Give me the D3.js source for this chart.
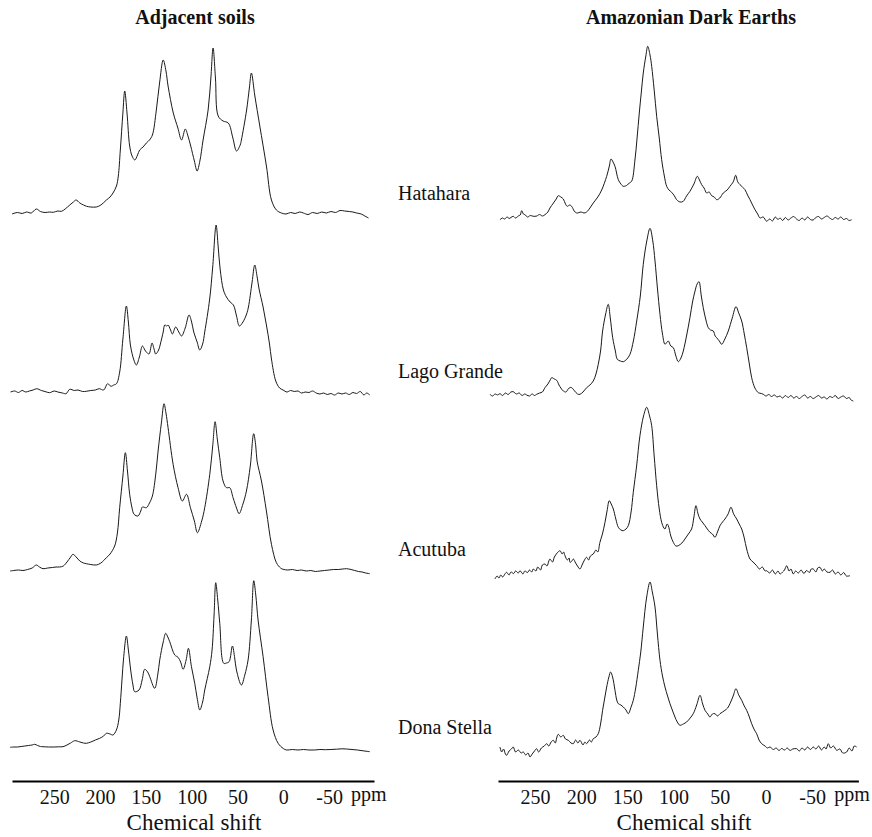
<!DOCTYPE html>
<html>
<head>
<meta charset="utf-8">
<script src="https://cdnjs.cloudflare.com/ajax/libs/d3/7.8.5/d3.min.js"></script>
<style>
  body { margin: 0; background: #fff; }
  #viz svg { display: block; }
  text { font-family: "Liberation Serif", "Times New Roman", serif; fill: #111; }
</style>
</head>
<body>
<div id="viz"></div>
<script>

// 13C NMR spectra, [ppm, intensity (a.u.)]
var sites = ["Hatahara", "Lago Grande", "Acutuba", "Dona Stella"];
var tickLabels = [250, 200, 150, 100, 50, 0, -50];

var adjHatahara = [[296,-1],[290,0.5],[285,-0.5],[280,1],[275,0],[269.5,4],[265,1.5],[260,0.5],[255,1],[251,0.7],[246,2],[242,1.7],[238,4],[233,8],[229,11],[226,13],[222,10],[218,8],[214.7,6.7],[210,6],[204,6],[199,8],[193,13],[189,16],[185.8,20],[182,27],[180,37],[177.8,63],[175,100],[173,122],[170.5,100],[167.6,67],[165,57],[162,53],[159,58],[156.7,63],[153,66],[149.4,70],[146,73],[142.8,78],[138.5,103],[135,130],[131,153],[128,142],[125.7,127],[120,100],[115,85],[111,73],[106.9,84],[104,77],[101,67],[97,52],[94,42],[91,52],[87.5,73],[82,103],[79,135],[76.6,165],[74,135],[71,97],[65.7,92],[60,90],[55,75],[51,62],[47,68],[45.7,73],[40,103],[37,125],[34.8,140],[31,117],[25.6,87],[18.4,47],[12.9,13],[7.5,3],[2,0],[-3,-1],[-8,0.5],[-13,-0.5],[-18,1],[-22,0],[-27,-1.5],[-32,0.5],[-37,-0.5],[-42,1],[-47,0],[-52,1.5],[-57,0.5],[-62,2.5],[-67,2],[-72,1.5],[-76,1],[-80,0],[-85,-1],[-89,-3],[-93,-5]];

var adjLagoGrande = [[297.6,0],[293,1],[289,-0.5],[285,1.5],[281,0],[277,1],[273,2],[269,3.3],[264,1.5],[260,0.5],[255,-0.7],[250,1],[246,0],[241,-1],[237,-1.7],[233,2.7],[228,1.5],[224,2],[219,0.5],[215,0.7],[210,1.5],[205,2],[200.8,3.3],[196,2],[191.7,8.3],[188,5.7],[185,7],[182,8.3],[178.5,20],[175,53],[171.2,86],[169,70],[166.8,47],[163,32],[160.3,27],[157,35],[153.7,46],[151,42],[149.4,40],[146.5,38],[143.2,49],[141,43],[139.2,38],[136,42],[134.1,48],[131,60],[129.3,67],[127,66],[125.7,67],[123,62],[121,58],[117.4,65],[114,60],[111,56],[107,64],[102.8,77],[100,70],[97.7,60],[94,50],[91.1,42],[88,48],[85.7,60],[80.3,93],[77,125],[73.3,167],[71,145],[68.9,123],[65.3,102],[62,95],[58,90],[54.4,87],[51,76],[47.9,66],[44,70],[40,78],[38,85],[34,110],[31.1,127],[28.5,115],[26.4,103],[22,85],[18.4,67],[15,48],[12.9,33],[8.2,11],[4,4],[0.2,2],[-4,0],[-8,1.5],[-12,0.5],[-16,1],[-20,-1],[-24,0],[-28,-0.5],[-32,1],[-36,-1],[-40,-2],[-44,-1],[-48,-2.5],[-52,-1.5],[-56,-3],[-60,-1],[-64,-2],[-68,-1],[-72,-2.5],[-76,-0.5],[-80,-1.5],[-84,0.5],[-88,-3],[-91,-1],[-94.4,-3]];

var adjAcutuba = [[298,0],[294,0.5],[289,1],[284,0.5],[279,1.5],[274,3],[269.5,6],[266,4],[262.2,2.3],[257,3],[252,3.5],[248,4],[244,4],[240,5],[236,9],[232,14],[229.5,16.7],[226,14],[222,10],[218,8],[214.9,7.3],[210,6.5],[204,6],[199,8],[193,13.3],[189,17],[184,25],[181,38],[178.5,63.3],[175,95],[172.3,118.3],[170,100],[167.6,76.7],[165,63],[162.8,56.7],[158.5,55],[155.5,60],[153.7,64],[149.4,63.3],[146,68],[142.8,75],[139,98],[136.6,120],[133,148],[130.1,167.3],[128,158],[125.7,143.3],[120.2,106.7],[114.8,83.3],[110.1,70],[105.6,76.7],[101.3,63.3],[97,50],[93.7,38.3],[89,50],[85.7,63.3],[80.2,96.7],[77,125],[74.4,149.3],[72,132],[69.3,113.3],[65.7,90],[62,83.3],[58.4,83.3],[54.8,73.3],[51,63],[48.2,57.3],[44,67],[40.2,80],[36,105],[32.3,137.3],[30,125],[28.6,110],[23.8,90],[18.4,60],[12.9,26.7],[7.5,8.3],[3,3],[0.2,1.7],[-5,1],[-10,1.5],[-15,0.5],[-20,1],[-25,0],[-30,0.5],[-35,-0.5],[-40,0],[-45,0.5],[-50,1],[-55,1.5],[-60,1.5],[-65,2],[-69,2.3],[-74,1.5],[-78,0.5],[-82,-0.5],[-86,-1],[-90,-2],[-94.4,-2.7]];

var adjDonaStella = [[298,2.7],[294,3],[290,3],[286,3.5],[282,4],[278,4.5],[274,5],[271.3,5.7],[268,4.5],[265,3.5],[262.2,3.3],[256,3],[250,3],[245,3.2],[240.4,3.3],[236,5],[232,7],[227.6,9.3],[222,8],[218,7],[214.9,6.7],[210,8],[205,10],[200.3,11.7],[196,14],[193,16.7],[189,16],[185.8,15],[182.1,20],[179.5,30],[177.8,46.7],[176,70],[174.1,93.3],[171.2,114],[169,100],[166.5,80],[164,65],[162.1,58.3],[157.4,60],[154,70],[151.2,80.7],[148,78],[145.7,73.3],[140.3,61.7],[137,75],[134.8,90],[131,108],[128.3,116.7],[126,113],[123.9,108.3],[118.4,95],[114.8,92.7],[112,88],[109.3,80.7],[106,90],[103.5,101.7],[100.2,83.3],[96.6,66.7],[94,52],[91.1,40],[88,48],[85.7,60],[80.2,83.3],[77.7,100],[75.5,135],[73.7,167.3],[71.5,150],[69.3,126.7],[65,86.7],[62,87],[59.1,88.3],[55.5,104],[53,92],[51.1,80],[45.7,65],[42,75],[38.4,90],[34.8,130],[32.2,169.3],[30,155],[27.5,130],[22,93.3],[16.6,53.3],[11.1,20],[5.6,6.7],[0,1.5],[-3.5,0],[-10,0.5],[-16,0],[-22,0.5],[-28,0],[-34,0],[-40,0.5],[-46,0.3],[-52,0.5],[-58,0.8],[-64,1.2],[-69,1],[-75,0.5],[-81,0],[-87,-0.8],[-94.4,-1.7]];

var adeHatahara = [[287.9,-1.7],[285,0],[283,-1],[280,1],[278,-0.5],[276,0.5],[273.5,1.7],[271,0],[268,2],[266,3],[264.4,7.3],[262.5,4],[260.8,3.3],[258,1],[255,2.5],[251.8,1.7],[248,2],[245,3.5],[242,2],[239.2,3.3],[236,6],[233.8,10],[230,15],[227,19],[224.8,22.3],[222,21],[219.3,19],[217,14],[215,11.7],[212.5,13],[210.3,11.7],[207.5,7],[204.9,5],[200,6],[197,5],[194.1,6],[190.5,10],[186.9,15],[182,21],[177.8,28],[172.4,41.7],[169.5,52],[167.7,59],[165.5,56],[163.4,51.7],[159.8,38.3],[157,34],[154.4,31.7],[150,33],[148,35],[145.4,36.7],[141.8,58],[139.5,80],[137.1,105],[135,125],[132.8,145],[130,162],[128,171.7],[125.5,163],[123.7,151.7],[121,128],[118.3,101.7],[115.5,80],[112.9,58.3],[110,42],[107.5,31.7],[105,28],[102.1,25.7],[99,22],[96.7,18.3],[93,16],[89.5,16.7],[86,22],[82.3,26.7],[78,34],[74.3,41.7],[72,38],[69.6,33.3],[67,30],[64.2,25],[61.5,26],[58.8,22.3],[56,21],[53.4,18.3],[50,20],[46.2,25],[42,28],[39,31.7],[35.5,36],[32.8,42.7],[30.5,36],[28.1,33.3],[25.5,31],[22.7,28.3],[20,23],[17.3,18.3],[14.5,13],[11.9,8.3],[9,4],[6.5,0],[3,1],[-0.7,-3.3],[-4,-1],[-7,-3],[-10,1],[-13,-1.5],[-15.2,0],[-18,-2.5],[-21,0.5],[-24,-2],[-27,0],[-30,1.5],[-33,-1],[-36,-2.5],[-39,0],[-42,-2],[-45,1],[-48,-1.5],[-51,-2],[-54,0.5],[-57,1.5],[-60,-1],[-63,0.5],[-66,2],[-69,0],[-72,-1.5],[-75,0.5],[-78,-1],[-81,1],[-84,-1.5],[-87,-0.5],[-90,-2.5],[-92.7,-1.7]];

var adeLagoGrande = [[298.7,1.7],[296,0],[293,2],[290.5,1],[287.9,2.3],[285,0.5],[282,3],[279,1.5],[276,4],[273.5,4.3],[270,2],[267,3],[264,0.5],[261,2],[259,1],[256,0],[253,2],[250.5,0.5],[248.2,1.7],[245,3],[242,4],[239.2,8.3],[236,12],[233.5,16],[231.9,18.3],[229,17],[226.5,15.7],[224,11],[222,8],[219.3,5],[216.5,4],[214,7],[212,8.5],[210.3,8.3],[207,5],[204,2],[201.3,1.7],[198,4],[194.1,8.3],[190.5,11],[186.9,15],[184,22],[181.5,31.7],[179,45],[176.8,65],[173.5,82],[170.7,91.7],[168.5,78],[165.9,58.3],[163,45],[160.9,36.7],[157.5,35],[154.4,34.3],[150.5,37],[147.2,41.7],[143.5,55],[139.9,75],[136,100],[132.8,131.7],[129,155],[125.5,167.7],[122.5,155],[120.1,135],[117.5,108],[114.7,81.7],[112,62],[109.3,51.7],[107,54],[105.7,55],[103,50],[100.3,48.3],[97.5,40],[94.9,34.3],[92,38],[89.5,45],[86,60],[82.3,78.3],[79.5,94],[76.8,105],[74.5,112],[72.5,114.3],[70,100],[67.9,88.3],[65,76],[62.4,68.3],[60,66],[57,65],[55,60],[53.4,58.3],[50.5,55],[47.9,51.7],[44.5,57],[40.8,65],[36.5,78],[32.5,89.3],[29.5,83],[26.3,75],[23.5,62],[20.9,48.3],[18,32],[15.5,18.3],[12,8],[8.3,3.3],[5,2.5],[2.9,1.7],[0,0],[-3,1.5],[-6,-0.5],[-9,1],[-12,-1],[-15,0],[-18,-2],[-21,0.5],[-24,-1.5],[-27,0.5],[-30,-2],[-33,-0.5],[-36,-2.5],[-39,-0.5],[-42,1],[-45,-2],[-48,-0.5],[-51,-2.5],[-54,-1],[-57,0.5],[-60,-2],[-63,-1],[-66,-3],[-69,-0.5],[-72,-1.5],[-75,0.5],[-78,-2.5],[-81,-1],[-84,0],[-87,-2.5],[-90,-1.5],[-92,-4],[-94.5,-5]];

var adeAcutuba = [[293.3,-5],[291,-2],[289,-4],[287,-1],[285,-3],[282.5,0],[280.7,1.7],[278,-1],[276,2],[273,0.5],[271,3],[268,1],[266.2,3.3],[263,0],[261,3],[258,1.5],[256,4],[253.5,2],[251.8,5],[249,3],[247,7],[244,4],[242,9],[239.2,10],[237,8],[235,13],[233.8,15],[231,12],[229,17],[226,21],[222.9,23.3],[220.5,20],[219,22],[217.5,18.3],[215,14],[213,16],[212.1,11.7],[210,13],[208.5,15],[206,11],[204,8],[201.3,5],[199,9],[197,13],[194.1,16.7],[192,14],[190,18],[186.9,20],[184,24],[182,22],[179.7,31.7],[177,40],[174.2,51.7],[172,63],[169.6,73.3],[167.5,70],[165.2,65],[162.5,55],[159.8,46.7],[157,44],[154.4,43.3],[151.5,45],[149,48.3],[146,62],[143.6,81.7],[140,108],[136.4,138.3],[132.5,158],[129.1,166.7],[126,158],[123.7,148.3],[121,118],[118.3,88.3],[115.5,65],[112.9,51.7],[110.5,46],[109.3,45],[107,50],[105.7,48.3],[103,38],[100.3,31.7],[97.5,28],[94.9,28.3],[91,31],[87.7,35],[84,40],[80.5,45],[78,57],[75.8,68.3],[73.5,60],[71.4,55],[69,52],[66,48.3],[63.5,45],[60.6,41.7],[58,40],[55.2,36.7],[52.5,42],[49.8,48.3],[47,52],[44.4,55],[41,60],[37.9,66.7],[35,60],[31.7,55],[29,50],[26.3,45],[23.5,36],[20.9,25],[17.3,15],[14,12],[10.1,8.3],[7,5],[4,7],[1,3],[-0.7,3.3],[-4,1],[-7,4],[-10,0],[-13,3],[-15.2,0],[-18,2],[-20,4],[-22.4,8.3],[-25,3],[-27,5],[-29.6,0],[-32,3],[-35,1],[-38,4],[-41,0.5],[-44,3.5],[-47,1.5],[-49,5],[-51.2,5],[-54,2],[-56,6],[-58.4,6.7],[-61,3],[-63,5],[-66,2],[-69.3,1.7],[-72,4],[-75,0],[-78,2],[-81,-1],[-84,1.5],[-87,-2],[-90.9,-1.7]];

var adeDonaStella = [[287.9,5],[286,0],[284,3],[282,-2],[280.7,-3.3],[278,1],[275.5,3],[273.5,5],[271,0],[268,2],[265,-1],[262.6,0],[260,-3],[257.5,-1],[255.4,-5],[253,-2],[250.5,1],[248.2,3.3],[246,0],[243,4],[240,6],[237.3,8.3],[235,6],[232.5,10],[230.2,11.7],[228,9],[226.5,14],[224.8,17.7],[222,15],[219.4,16.7],[217,13],[213.9,11.7],[211,9],[208.5,8.3],[206,12],[203.5,9],[201.3,11.7],[198,7],[196,10],[194.1,8.3],[191,12],[189,10],[186.9,13.3],[184,15],[181.5,18.3],[179,28],[176.8,41.7],[174.5,54],[172.4,65],[170,75],[168.1,80],[166,75],[163.4,61.7],[161.5,52],[159.8,48.3],[157,47],[154.4,45],[151.5,42],[149,38.3],[146,45],[143.6,51.7],[141,64],[138.2,81.7],[135.5,100],[132.8,125],[129.1,155],[125.5,170],[123,160],[120.1,145],[117.5,118],[114.7,91.7],[112,76],[109.3,65],[106.5,56],[103.9,48.3],[101,41],[98.5,35],[96,30],[93.1,26.7],[89.5,28],[85.9,30],[82,34],[78.7,38.3],[75,47],[71.4,56.7],[68.5,48],[66,41.7],[63,38],[60.6,35],[58,38],[55.2,38.3],[52.5,36],[49.8,38.3],[47,40],[44.4,41.7],[41.5,44],[39,48.3],[35.5,56],[32.5,63.3],[29.5,57],[26.3,51.7],[23.5,46],[20.9,41.7],[18,35],[15.5,28.3],[12.5,22],[10.1,18.3],[7.5,12],[4.7,8.3],[1,6],[-1.5,4],[-4.3,5],[-8,2.5],[-11,4],[-14,1.5],[-17,3.5],[-20,2],[-23,4],[-26,1.5],[-29,3],[-33.2,3.3],[-36,1],[-39,4],[-42,2],[-45,5],[-48,2.5],[-51.2,5],[-54,3],[-57,6],[-60,2],[-63,5],[-65,3],[-67.4,8.3],[-70,4],[-73,6],[-76.5,1.7],[-80,3],[-83,-1],[-87.3,0],[-90,4],[-93,1],[-95.5,6],[-98.1,5]];

var adjacent = [adjHatahara, adjLagoGrande, adjAcutuba, adjDonaStella];
var darkEarths = [adeHatahara, adeLagoGrande, adeAcutuba, adeDonaStella];

draw();

function draw(){
  d3.select("svg").remove();

  var width = 872, height = 837;
  var axisY = 781;
  var serif = "'Liberation Serif', 'Times New Roman', serif";

  var svg = d3.select("#viz").append("svg")
      .attr("width", width)
      .attr("height", height);

  var panels = [
    {title: "Adjacent soils", series: adjacent, domain: [296, -99], range: [12, 374], rows: [213, 750], titleX: 195, axisTitleX: 194, labels: false},
    {title: "Amazonian Dark Earths", series: darkEarths, domain: [290, -100], range: [498, 858.4], rows: [218, 752], titleX: 691, axisTitleX: 684, labels: true}
  ];

  // intensity -> pixels above the row baseline
  var yScale = d3.scaleLinear()
      .domain([0, 100])
      .range([0, -100]);

  panels.forEach(function(p){

    var x = d3.scaleLinear()
        .domain(p.domain)
        .range(p.range);

    var row = d3.scalePoint()
        .domain(sites)
        .range(p.rows);

    var g = svg.append("g").attr("class", "panel");

    // title
    g.append("text")
        .attr("x", p.titleX)
        .attr("y", 24)
        .attr("text-anchor", "middle")
        .style("font-size", "20px")
        .style("font-weight", "bold")
        .text(p.title);

    // spectra
    p.series.forEach(function(s, i){
      var base = row(sites[i]);
      var line = d3.line()
          .x(function(d){ return x(d[0]); })
          .y(function(d){ return base + yScale(d[1]); })
          .curve(d3.curveCatmullRom.alpha(0.5));

      g.append("path")
          .datum(s)
          .attr("d", line)
          .style("fill", "none")
          .style("stroke", "#1a1a1a")
          .style("stroke-width", "1px");

      if (p.labels) {
        g.append("text")
            .attr("x", 398)
            .attr("y", base - 18)
            .style("font-size", "20px")
            .text(sites[i]);
      }
    });

    // axis
    var axis = d3.axisBottom(x)
        .tickValues(tickLabels)
        .tickSize(0)
        .tickSizeOuter(0)
        .tickPadding(9)
        .tickFormat(function(d){ return String(d); });

    var ax = g.append("g")
        .attr("transform", "translate(0," + axisY + ")")
        .call(axis);

    ax.attr("font-family", serif).attr("font-size", 20);
    ax.select(".domain").style("stroke", "#000").style("stroke-width", "2px");
    ax.selectAll("text")
        .style("font-family", serif)
        .style("font-size", "20px")
        .style("fill", "#111");

    g.append("text")
        .attr("x", x(-50) + 22)
        .attr("y", axisY + 20)
        .style("font-size", "20px")
        .text("ppm");

    g.append("text")
        .attr("x", p.axisTitleX)
        .attr("y", 830)
        .attr("text-anchor", "middle")
        .style("font-size", "23px")
        .text("Chemical shift");
  });
}

</script>
</body>
</html>
